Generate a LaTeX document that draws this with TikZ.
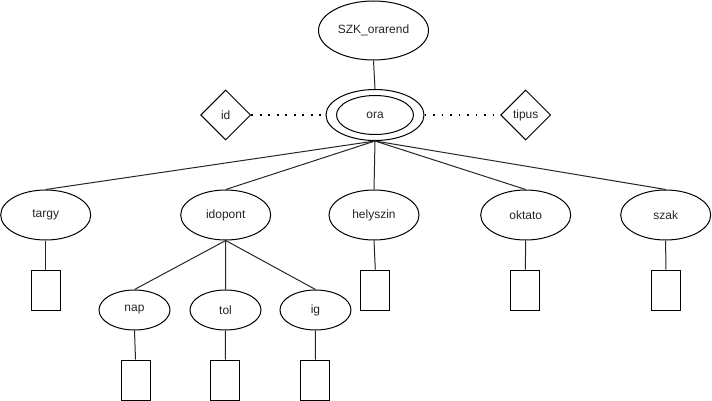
\documentclass[tikz,border=0pt]{standalone}
\usepackage{fontspec}
\setmainfont{Liberation Sans}
\usetikzlibrary{shapes.geometric}
\begin{document}
\begin{tikzpicture}[x=1pt,y=-1pt,
  every node/.style={font=\fontsize{12}{14}\selectfont, text=black!85, inner sep=0pt},
  entity/.style={ellipse, draw=black, line width=1pt, fill=white},
  attr/.style={ellipse, draw=black, line width=1pt, fill=white, minimum width=90, minimum height=50},
  subattr/.style={ellipse, draw=black, line width=1pt, fill=white, minimum width=71, minimum height=40},
  keybox/.style={diamond, draw=black, line width=1pt, fill=white, minimum width=50, minimum height=50, aspect=1},
  valbox/.style={rectangle, draw=black, line width=1pt, fill=white, minimum width=29, minimum height=40},
  link/.style={draw=black!85, line width=1pt},
  dotlink/.style={draw=black, line width=1.8pt, dash pattern=on 1.8pt off 6.7pt}
]
\useasboundingbox (0,0) rectangle (712,401);

% root and main entity
\node[entity, minimum width=110, minimum height=59] (root) at (373.5,30.5) {SZK\_orarend};
\node[entity, minimum width=98, minimum height=51] (ora) at (375,115) {};
\node[entity, minimum width=77, minimum height=39] (orain) at (375,115) {ora};

% key diamonds
\node[keybox] (id) at (225.7,115) {id};
\node[keybox] (tipus) at (525.7,115) {tipus};

% attributes
\node[attr] (targy) at (45.7,215) {targy};
\node[attr] (idopont) at (225.7,215) {idopont};
\node[attr] (helyszin) at (374,215) {helyszin};
\node[attr] (oktato) at (525.7,215) {oktato};
\node[attr] (szak) at (665.7,215) {szak};

% sub-attributes of idopont
\node[subattr] (nap) at (134.5,310) {nap};
\node[subattr] (tol) at (225.5,310) {tol};
\node[subattr] (ig) at (315.5,310) {ig};

% value boxes
\node[valbox] (vtargy) at (45.7,290) {};
\node[valbox] (vhelyszin) at (375.3,290) {};
\node[valbox] (voktato) at (525.3,290) {};
\node[valbox] (vszak) at (665.8,290) {};
\node[valbox] (vnap) at (135.5,380) {};
\node[valbox] (vtol) at (225.3,380) {};
\node[valbox] (vig) at (315.3,380) {};

% connectors
\draw[link] (root.south) -- (ora.north);
\draw[dotlink] (id.east) -- (ora.west);
\draw[dotlink] (ora.east) -- (tipus.west);

\foreach \t in {targy,idopont,helyszin,oktato,szak}
  \draw[link] (ora.south) -- (\t.north);
\foreach \t in {nap,tol,ig}
  \draw[link] (idopont.south) -- (\t.north);

\draw[link] (targy.south) -- (vtargy.north);
\draw[link] (helyszin.south) -- (vhelyszin.north);
\draw[link] (oktato.south) -- (voktato.north);
\draw[link] (szak.south) -- (vszak.north);
\draw[link] (nap.south) -- (vnap.north);
\draw[link] (tol.south) -- (vtol.north);
\draw[link] (ig.south) -- (vig.north);
\end{tikzpicture}
\end{document}
